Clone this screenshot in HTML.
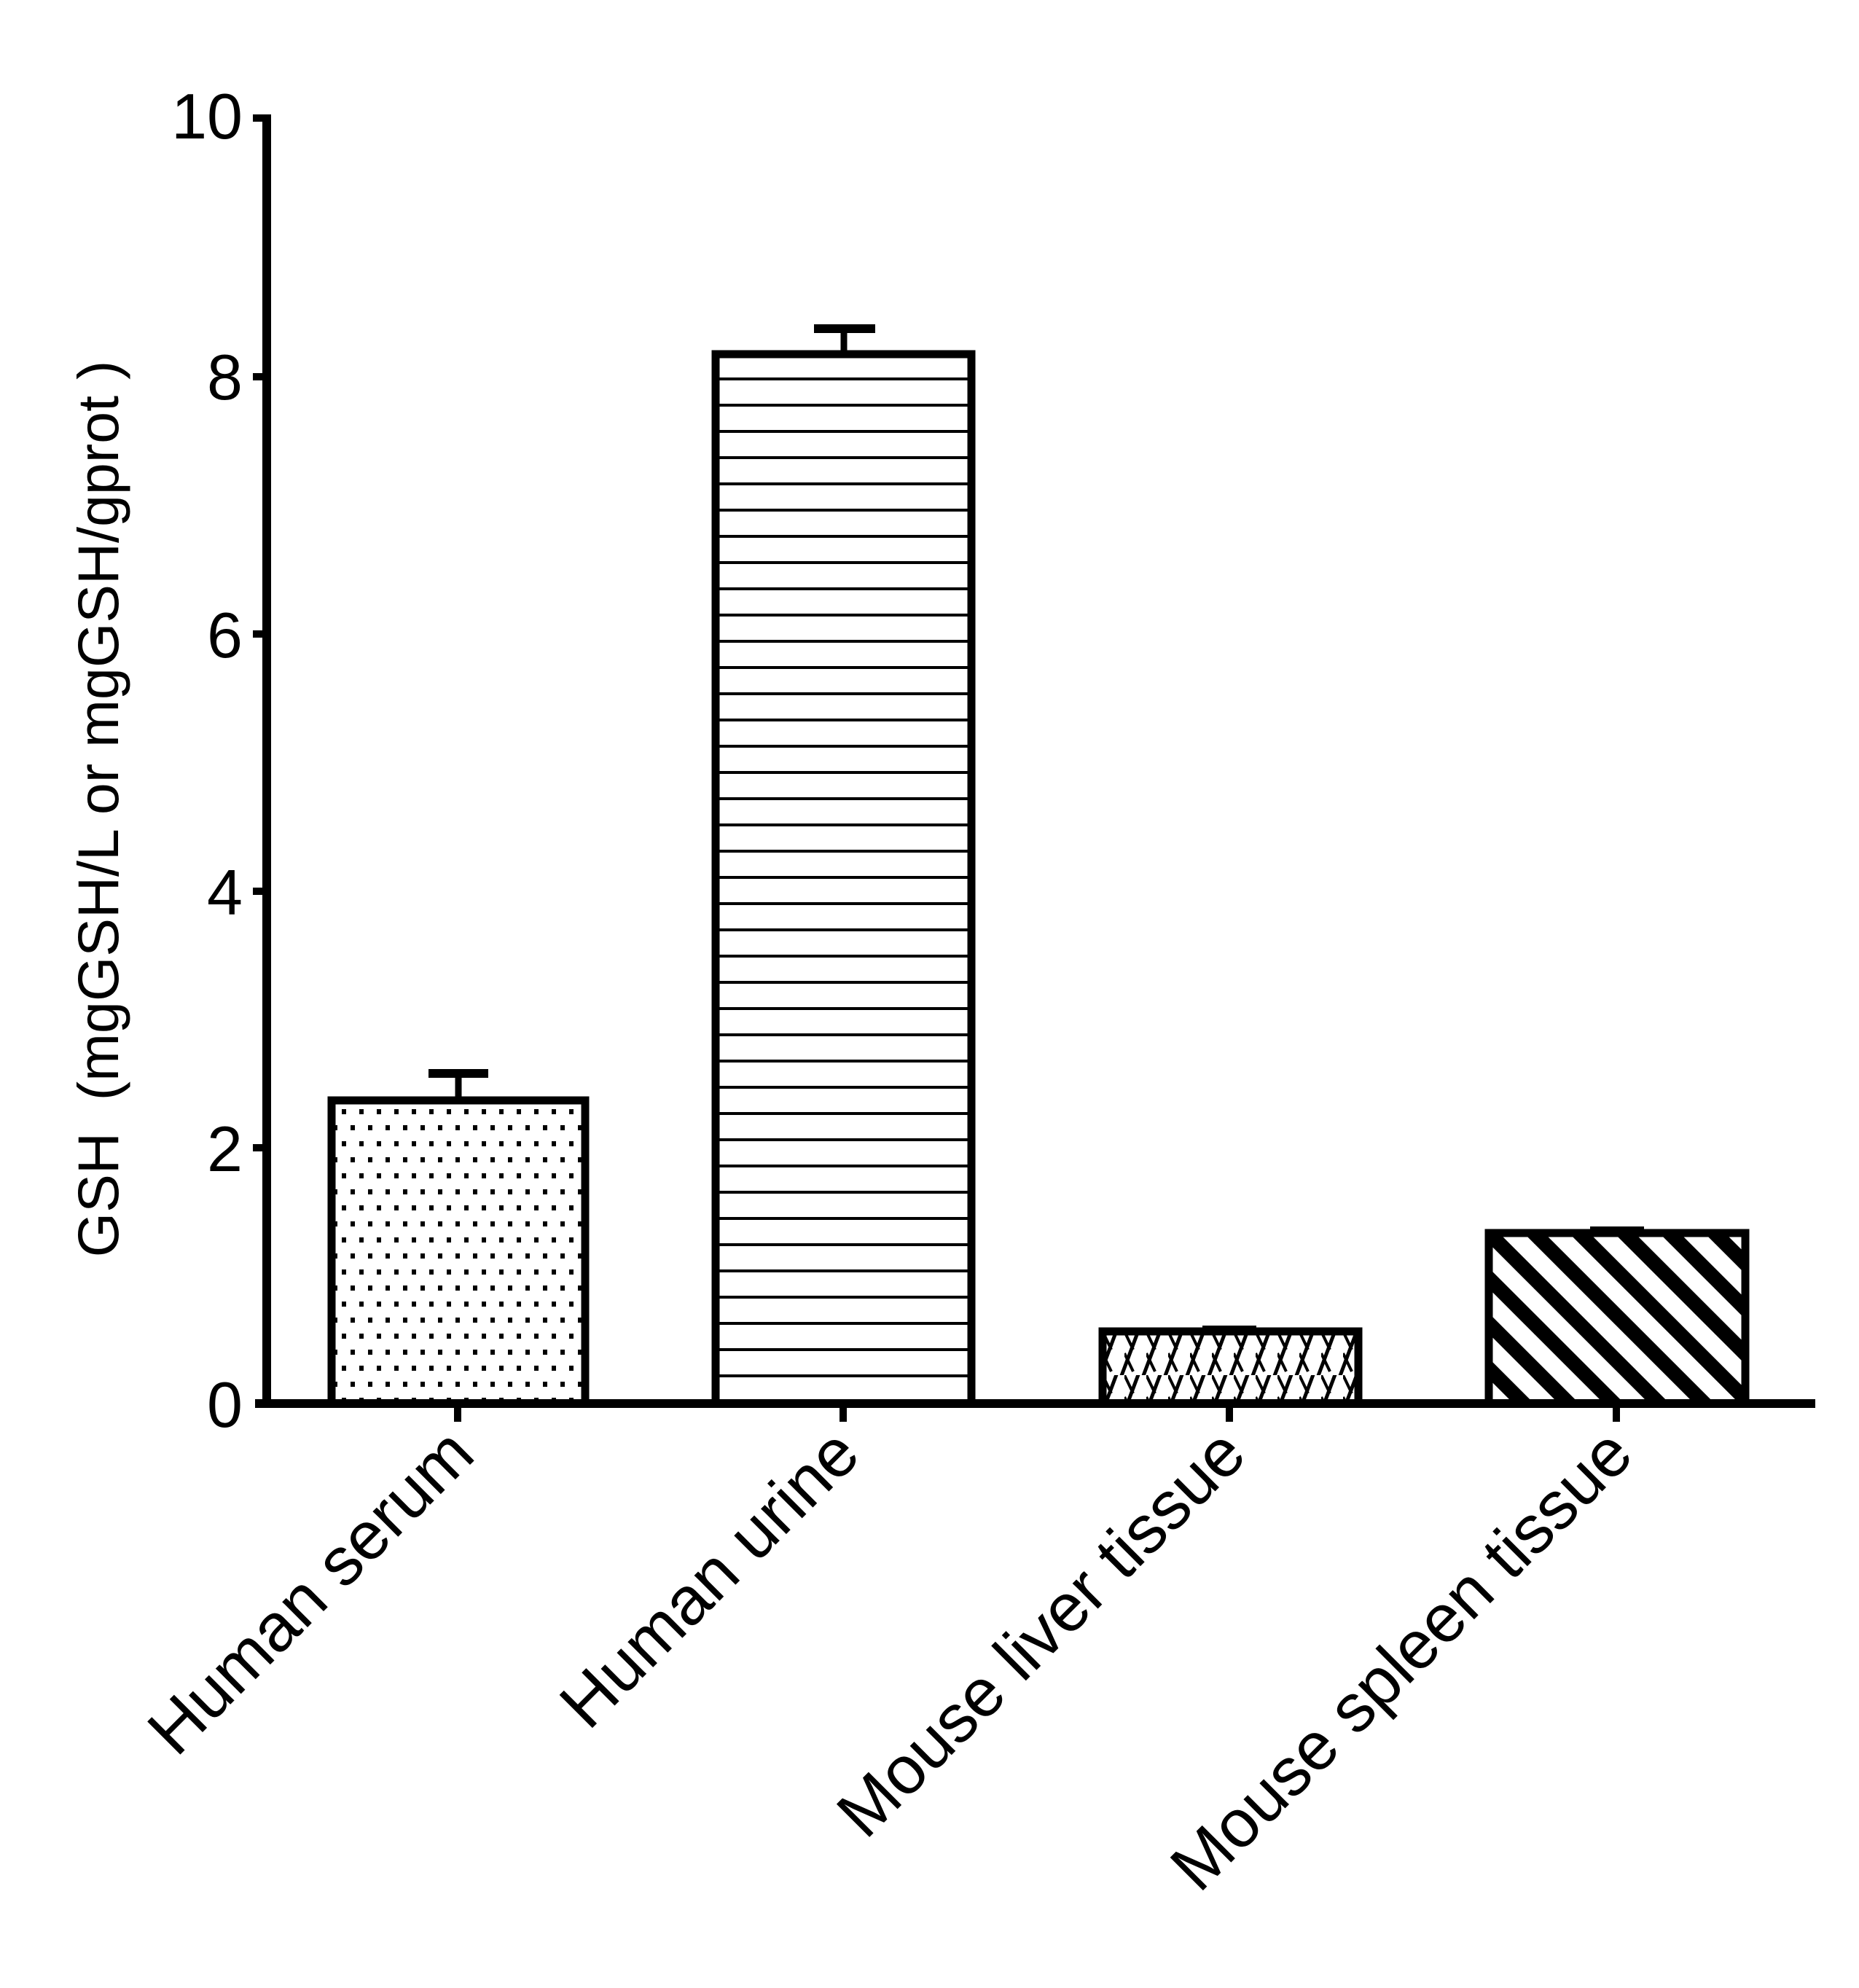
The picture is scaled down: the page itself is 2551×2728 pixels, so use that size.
<!DOCTYPE html>
<html><head><meta charset="utf-8"><style>html,body{margin:0;padding:0;background:#fff}svg{display:block}</style></head>
<body>
<svg width="2551" height="2728" viewBox="0 0 2551 2728" xmlns="http://www.w3.org/2000/svg" font-family="Liberation Sans, Arial, sans-serif">
<defs>
<pattern id="dots" x="455" y="1510" width="24" height="44" patternUnits="userSpaceOnUse">
<rect x="14" y="12" width="6" height="7" fill="#000"/>
<rect x="2" y="34" width="6" height="7" fill="#000"/>
</pattern>
<pattern id="hlines" x="0" y="486" width="40" height="36" patternUnits="userSpaceOnUse">
<rect x="0" y="32" width="40" height="6" fill="#000"/>
</pattern>
<pattern id="liver" x="1513" y="1827" width="30" height="60" patternUnits="userSpaceOnUse">
<line x1="-15" y1="90" x2="30" y2="-30" stroke="#000" stroke-width="5"/>
<line x1="15" y1="90" x2="60" y2="-30" stroke="#000" stroke-width="5"/>
<line x1="-15" y1="30" x2="30" y2="-90" stroke="#000" stroke-width="5"/>
<line x1="0" y1="0" x2="12" y2="25" stroke="#000" stroke-width="4"/>
<line x1="0" y1="30" x2="12" y2="55" stroke="#000" stroke-width="4"/>
</pattern>
<pattern id="diag" x="2043" y="1692" width="62" height="62" patternUnits="userSpaceOnUse">
<line x1="-31" y1="-31" x2="93" y2="93" stroke="#000" stroke-width="20"/>
<line x1="-62" y1="0" x2="31" y2="93" stroke="#000" stroke-width="20"/>
<line x1="0" y1="-62" x2="93" y2="31" stroke="#000" stroke-width="20"/>
</pattern>
</defs>

<rect x="455" y="1510" width="348" height="416" fill="url(#dots)" stroke="#000" stroke-width="11"/>
<rect x="982" y="486" width="351" height="1440" fill="url(#hlines)" stroke="#000" stroke-width="11"/>
<rect x="1513" y="1827" width="351" height="99" fill="url(#liver)" stroke="#000" stroke-width="11"/>
<rect x="2043" y="1692" width="352" height="234" fill="url(#diag)" stroke="#000" stroke-width="11"/>

<g stroke="#000" stroke-width="9" fill="none">
<line x1="629" y1="1505" x2="629" y2="1473"/>
<line x1="1158" y1="481" x2="1158" y2="451"/>
</g>
<g fill="#000">
<rect x="588" y="1467" width="82" height="12"/>
<rect x="1117" y="445" width="84" height="12"/>
<rect x="1650" y="1819" width="74" height="9"/>
<rect x="2182" y="1683" width="74" height="10"/>
</g>

<rect x="360" y="157" width="12" height="1775" fill="#000"/>
<rect x="350" y="1920" width="2141" height="12" fill="#000"/>
<g fill="#000">
<rect x="347" y="157" width="20" height="10"/>
<rect x="347" y="512" width="20" height="10"/>
<rect x="347" y="865" width="20" height="10"/>
<rect x="347" y="1218" width="20" height="10"/>
<rect x="347" y="1570" width="20" height="10"/>
<rect x="623" y="1926" width="10" height="25"/>
<rect x="1152" y="1926" width="10" height="25"/>
<rect x="1682" y="1926" width="10" height="25"/>
<rect x="2213" y="1926" width="10" height="25"/>
</g>

<g font-size="88" text-anchor="end" fill="#000">
<text x="333" y="190">10</text>
<text x="333" y="548">8</text>
<text x="333" y="902">6</text>
<text x="333" y="1255">4</text>
<text x="333" y="1607">2</text>
<text x="333" y="1958">0</text>
</g>

<text transform="translate(162,1110) rotate(-90)" font-size="79" text-anchor="middle" fill="#000" xml:space="preserve">GSH  (mgGSH/L or mgGSH/gprot )</text>

<g font-size="93" text-anchor="end" fill="#000">
<text transform="translate(655,2000) rotate(-45)">Human serum</text>
<text transform="translate(1184,2000) rotate(-45)">Human urine</text>
<text transform="translate(1714,2000) rotate(-45)">Mouse liver tissue</text>
<text transform="translate(2245,2000) rotate(-45)">Mouse spleen tissue</text>
</g>
</svg>
</body></html>
